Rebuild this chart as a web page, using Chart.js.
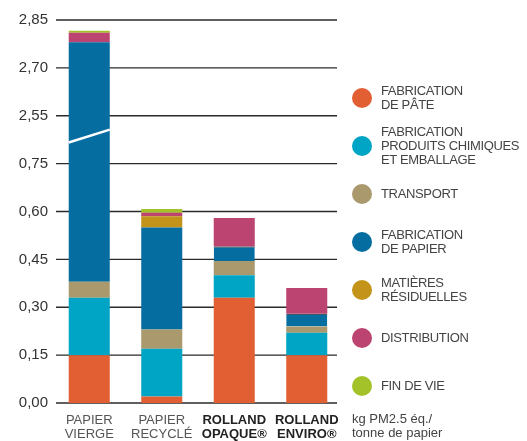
<!DOCTYPE html>
<html lang="fr">
<head>
<meta charset="utf-8">
<title>PM2.5 par tonne de papier</title>
<script src="https://cdn.jsdelivr.net/npm/chart.js@4/dist/chart.umd.min.js"></script>
<style>
    body { margin: 0; background: #fff; font-family: "Liberation Sans", Arial, sans-serif; }
    #cadre { position: relative; width: 527px; height: 441px; }
    #legende { position: absolute; left: 352px; top: 74px; }
    .item { display: flex; align-items: center; height: 48px; }
    .pastille { width: 20px; height: 20px; border-radius: 50%; flex: none; margin-right: 9px; }
    .texte { font-size: 13px; line-height: 14px; color: #444; letter-spacing: -0.35px; }
    #unite { position: absolute; left: 352px; top: 412px; font-size: 13px; line-height: 14px; color: #444; }
</style>
</head>
<body>
<div id="cadre">
    <canvas id="graphique" width="527" height="441"></canvas>
    <div id="legende"></div>
    <div id="unite">kg PM2.5 éq./<br>tonne de papier</div>
</div>
<script>
// ================================================================
//  DONNÉES (kg PM2.5 éq. / tonne de papier)
// ================================================================
const categories = [['PAPIER', 'VIERGE'], ['PAPIER', 'RECYCLÉ'], ['ROLLAND', 'OPAQUE®'], ['ROLLAND', 'ENVIRO®']];
const categoriesGras = [false, false, true, true];

const fabricationPate = [0.15, 0.02, 0.33, 0.15];
const produitsChimiques = [0.18, 0.15, 0.07, 0.07];
const transport = [0.05, 0.06, 0.045, 0.02];
const fabricationPapier = [2.40, 0.32, 0.045, 0.04];
const matieresResiduelles = [0, 0.035, 0, 0];
const distribution = [0.03, 0.011, 0.09, 0.08];
const finDeVie = [0.006, 0.012, 0, 0];

const etiquettesY = ['0,00', '0,15', '0,30', '0,45', '0,60', '0,75', '2,55', '2,70', '2,85'];

const series = [
    { nom: ['FABRICATION', 'DE PÂTE'], valeurs: fabricationPate, couleur: '#E25F33' },
    { nom: ['FABRICATION', 'PRODUITS CHIMIQUES', 'ET EMBALLAGE'], valeurs: produitsChimiques, couleur: '#00A4C4' },
    { nom: ['TRANSPORT'], valeurs: transport, couleur: '#A9996D' },
    { nom: ['FABRICATION', 'DE PAPIER'], valeurs: fabricationPapier, couleur: '#066DA1' },
    { nom: ['MATIÈRES', 'RÉSIDUELLES'], valeurs: matieresResiduelles, couleur: '#C4931A' },
    { nom: ['DISTRIBUTION'], valeurs: distribution, couleur: '#BC4470' },
    { nom: ['FIN DE VIE'], valeurs: finDeVie, couleur: '#A3C22A' }
];

// ================================================================
//  AXE COUPÉ : 0–0,75 puis 2,55–2,85 (un pas = 0,15)
// ================================================================
function versAxe(v) {
    if (v <= 0.75) return v / 0.15;
    if (v >= 2.55) return 6 + (v - 2.55) / 0.15;
    return 5 + (v - 0.75) / 1.8;
}

// empilement fait à la main pour passer par la coupure
const cumul = categories.map(() => 0);
const jeux = series.map(s => {
    const data = s.valeurs.map((v, i) => {
        const bas = versAxe(cumul[i]);
        cumul[i] += v;
        return versAxe(cumul[i]) - bas;
    });
    return {
        label: s.nom.join(' '),
        data: data,
        backgroundColor: s.couleur,
        borderColor: '#1a1a1a',
        borderWidth: s.valeurs === fabricationPapier ? (ctx => ctx.dataIndex >= 2 ? { top: 1 } : 0) : 0,
        borderSkipped: false,
        categoryPercentage: 1,
        barPercentage: 0.566
    };
});

// lignes de la grille, un peu plus courtes que la zone
const grillePlugin = {
    id: 'grille',
    beforeDatasetsDraw(chart) {
        const { ctx, chartArea, scales } = chart;
        ctx.save();
        ctx.strokeStyle = '#2a2a2a';
        ctx.lineWidth = 1.4;
        scales.y.ticks.forEach(t => {
            const y = scales.y.getPixelForValue(t.value);
            ctx.beginPath();
            ctx.moveTo(chartArea.left + 3, y);
            ctx.lineTo(chartArea.right - 6, y);
            ctx.stroke();
        });
        ctx.restore();
    }
};

// trait blanc de la coupure sur la première barre
const coupurePlugin = {
    id: 'coupure',
    afterDatasetsDraw(chart) {
        const { ctx, scales } = chart;
        const barre = chart.getDatasetMeta(3).data[0];
        const g = barre.x - barre.width / 2;
        const d = barre.x + barre.width / 2;
        ctx.save();
        ctx.strokeStyle = '#ffffff';
        ctx.lineWidth = 2.5;
        ctx.beginPath();
        ctx.moveTo(g, scales.y.getPixelForValue(5.44));
        ctx.lineTo(d, scales.y.getPixelForValue(5.71));
        ctx.stroke();
        ctx.restore();
    }
};

new Chart(document.getElementById('graphique').getContext('2d'), {
    type: 'bar',
    data: { labels: categories, datasets: jeux },
    options: {
        responsive: false,
        animation: false,
        layout: { padding: { top: 20, right: 184, bottom: 0, left: 0 } },
        plugins: {
            legend: { display: false },
            tooltip: { enabled: false }
        },
        scales: {
            x: {
                stacked: true,
                grid: { display: false, drawTicks: false },
                border: { display: false },
                afterFit: s => { s.height = 38; },
                ticks: {
                    padding: 10,
                    maxRotation: 0,
                    color: ctx => categoriesGras[ctx.index] ? '#222' : '#555',
                    font: ctx => ({
                        family: '"Liberation Sans", Arial, sans-serif',
                        size: 13,
                        weight: categoriesGras[ctx.index] ? 'bold' : 'normal',
                        lineHeight: 1.08
                    })
                }
            },
            y: {
                stacked: true,
                min: 0,
                max: 8,
                grid: { display: false, drawTicks: false },
                border: { display: false },
                afterFit: s => { s.width = 53; },
                ticks: {
                    stepSize: 1,
                    padding: 5,
                    color: '#333',
                    font: { family: '"Liberation Sans", Arial, sans-serif', size: 15 },
                    callback: (v, i) => etiquettesY[i]
                }
            }
        }
    },
    plugins: [grillePlugin, coupurePlugin]
});

// ================================================================
//  LÉGENDE
// ================================================================
document.getElementById('legende').innerHTML = series.map(s => `
    <div class="item">
        <span class="pastille" style="background:${s.couleur}"></span>
        <span class="texte">${s.nom.join('<br>')}</span>
    </div>`).join('');
</script>
</body>
</html>
